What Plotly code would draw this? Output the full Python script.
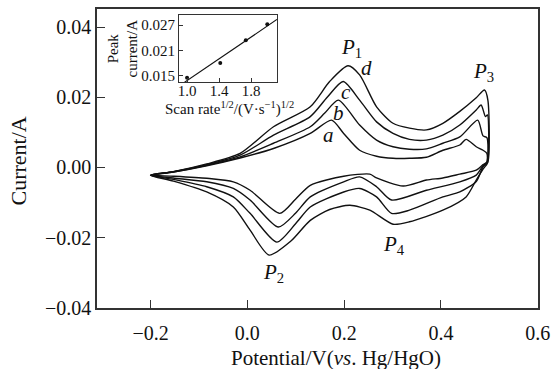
import numpy as np
import plotly.graph_objects as go

# ---------------- data ----------------
# CV curves: anodic branch (-0.2 -> 0.5 V) followed by cathodic branch (0.5 -> -0.2 V)
a_x = [-0.20, -0.153, -0.084, -0.015, 0.054, 0.13, 0.174, 0.199, 0.232, 0.267, 0.301, 0.335, 0.37, 0.404, 0.439, 0.452, 0.473, 0.487, 0.495,
       0.495, 0.487, 0.473, 0.439, 0.404, 0.37, 0.322, 0.267, 0.253, 0.199, 0.13, 0.10, 0.067, 0.0056, -0.029, -0.084, -0.153, -0.20]
a_y = [-0.0022, -0.0013, 0.0005, 0.0027, 0.0054, 0.0097, 0.0135, 0.0097, 0.0049, 0.0032, 0.0026, 0.0026, 0.0029, 0.0049, 0.0064, 0.0080, 0.0059, 0.0049, 0.0040,
       0.0015, 0.0008, -0.0008, -0.0019, -0.0030, -0.0036, -0.0053, -0.0030, -0.0019, -0.0025, -0.0051, -0.0090, -0.0131, -0.0065, -0.0041, -0.0031, -0.0025, -0.0022]

b_x = [-0.20, -0.153, -0.084, -0.015, 0.054, 0.13, 0.16, 0.188, 0.232, 0.267, 0.301, 0.335, 0.37, 0.404, 0.439, 0.476, 0.487, 0.495,
       0.495, 0.487, 0.473, 0.439, 0.37, 0.298, 0.267, 0.232, 0.199, 0.13, 0.10, 0.064, 0.0056, -0.029, -0.084, -0.153, -0.20]
b_y = [-0.0022, -0.0013, 0.0006, 0.0030, 0.0069, 0.0116, 0.0155, 0.0192, 0.0121, 0.0078, 0.0059, 0.0052, 0.0053, 0.0069, 0.0087, 0.0135, 0.0090, 0.0085,
       0.0015, 0.0005, -0.0022, -0.0041, -0.0065, -0.0093, -0.0055, -0.0027, -0.0041, -0.0084, -0.0130, -0.0170, -0.0093, -0.0060, -0.0041, -0.0030, -0.0022]

c_x = [-0.20, -0.153, -0.084, -0.015, 0.054, 0.13, 0.165, 0.198, 0.232, 0.267, 0.301, 0.335, 0.37, 0.404, 0.439, 0.473, 0.483, 0.492, 0.496,
       0.496, 0.487, 0.473, 0.439, 0.404, 0.335, 0.298, 0.267, 0.232, 0.199, 0.13, 0.10, 0.061, 0.0056, -0.029, -0.084, -0.153, -0.20]
c_y = [-0.0022, -0.0012, 0.0008, 0.0035, 0.0092, 0.0145, 0.0200, 0.0245, 0.0192, 0.0130, 0.0097, 0.0080, 0.0078, 0.0092, 0.0121, 0.0164, 0.0178, 0.0145, 0.0150,
       0.0015, 0.0002, -0.0040, -0.0070, -0.0084, -0.0122, -0.0131, -0.0084, -0.0060, -0.0070, -0.0113, -0.0160, -0.0213, -0.0131, -0.0084, -0.0055, -0.0034, -0.0022]

d_x = [-0.20, -0.153, -0.084, -0.015, 0.054, 0.13, 0.17, 0.208, 0.232, 0.267, 0.301, 0.335, 0.37, 0.404, 0.439, 0.473, 0.490, 0.497,
       0.497, 0.487, 0.473, 0.452, 0.404, 0.335, 0.301, 0.253, 0.212, 0.17, 0.13, 0.09, 0.045, 0.0056, -0.029, -0.084, -0.153, -0.20]
d_y = [-0.0022, -0.0012, 0.0010, 0.0040, 0.0116, 0.0173, 0.0245, 0.0290, 0.0264, 0.0173, 0.0126, 0.0112, 0.0107, 0.0126, 0.0160, 0.0199, 0.0221, 0.0192,
       0.0015, -0.0005, -0.0036, -0.0084, -0.0122, -0.0155, -0.0162, -0.0122, -0.0108, -0.0120, -0.0151, -0.0210, -0.0250, -0.0179, -0.0113, -0.0070, -0.0039, -0.0022]

curves = [(a_x, a_y), (b_x, b_y), (c_x, c_y), (d_x, d_y)]

# inset: peak current vs square root of scan rate
scan_sqrt = [1.0, 1.414, 1.732, 2.0]
peak_current = [0.0145, 0.0180, 0.0234, 0.0272]

x_ticks = [-0.2, 0.0, 0.2, 0.4, 0.6]
x_ticktext = ["\u22120.2", "0.0", "0.2", "0.4", "0.6"]
y_ticks = [-0.04, -0.02, 0.0, 0.02, 0.04]
y_ticktext = ["\u22120.04", "\u22120.02", "0.00", "0.02", "0.04"]
inset_x_ticks = [1.0, 1.4, 1.8]
inset_y_ticks = [0.015, 0.021, 0.027]
inset_y_ticktext = ["0.015", "0.021", "0.027"]

# ---------------- figure ----------------
FONT = "Liberation Serif"
INK = "#111111"
fig = go.Figure()

for cx, cy in curves:
    fig.add_trace(go.Scatter(x=cx, y=cy, mode="lines",
                             line=dict(color=INK, width=1.4, shape="spline", smoothing=0.7),
                             showlegend=False, hoverinfo="skip"))

# inset data
fig.add_trace(go.Scatter(x=scan_sqrt, y=peak_current, mode="markers",
                         marker=dict(color=INK, size=4), xaxis="x2", yaxis="y2",
                         showlegend=False, hoverinfo="skip"))
slope, intercept = np.polyfit(scan_sqrt, peak_current, 1)
fit_x = [0.93, 2.12]
fit_y = [slope * v + intercept for v in fit_x]
fig.add_trace(go.Scatter(x=fit_x, y=fit_y, mode="lines", line=dict(color=INK, width=1.1),
                         xaxis="x2", yaxis="y2", showlegend=False, hoverinfo="skip"))

axis_common = dict(showline=True, linecolor="#333333", linewidth=1.6, mirror=True,
                   ticks="inside", tickcolor="#333333", tickwidth=1.4, showgrid=False,
                   zeroline=False, automargin=False,
                   tickfont=dict(family=FONT, size=20, color=INK))

inset_common = dict(showline=True, linecolor="#333333", linewidth=1.2, mirror=True,
                    ticks="inside", tickcolor="#333333", ticklen=4, showgrid=False,
                    zeroline=False, automargin=False,
                    tickfont=dict(family=FONT, size=15, color=INK))

fig.update_layout(
    width=552, height=369,
    margin=dict(l=97, r=14, t=9, b=61),
    paper_bgcolor="white", plot_bgcolor="white",
    font=dict(family=FONT, color=INK),
    xaxis=dict(range=[-0.3107, 0.6006], tickvals=x_ticks, ticktext=x_ticktext, ticklen=8,
               ticklabelstandoff=6, **axis_common),
    yaxis=dict(range=[-0.0401, 0.0452], tickvals=y_ticks, ticktext=y_ticktext, ticklen=8,
               **axis_common),
    xaxis2=dict(domain=[0.186, 0.408], anchor="y2", range=[0.9, 2.12],
                tickvals=inset_x_ticks, ticktext=["1.0", "1.4", "1.8"],
                ticklabelstandoff=-5, **inset_common),
    yaxis2=dict(domain=[0.756, 0.980], anchor="x2", range=[0.0135, 0.0294],
                tickvals=inset_y_ticks, ticktext=inset_y_ticktext, **inset_common),
)

annotations = [
    dict(text="Potential/V(<i>vs</i>. Hg/HgO)", xref="paper", yref="paper", x=0.542, y=0.0,
         yshift=-50, xanchor="center", yanchor="middle", showarrow=False,
         font=dict(family=FONT, size=21, color=INK)),
    dict(text="Current/A", xref="paper", yref="paper", x=0, xshift=-79, y=0.49,
         textangle=-90, xanchor="center", yanchor="middle", showarrow=False,
         font=dict(family=FONT, size=22, color=INK)),
    dict(text="Peak<br>current/A", xref="paper", yref="paper", x=0.186, xshift=-56, y=0.868,
         textangle=-90, xanchor="center", yanchor="middle", showarrow=False,
         font=dict(family=FONT, size=15, color=INK)),
    dict(text="Scan rate<sup>1/2</sup>/(V\u00b7s<sup>\u22121</sup>)<sup>1/2</sup>", xref="paper", yref="paper",
         x=0.30, y=0.756, yshift=-15, xanchor="center", yanchor="top", showarrow=False,
         font=dict(family=FONT, size=15, color=INK)),
]
labels = [
    ("<i>P</i><sub>1</sub>", 0.215, 0.0341),
    ("<i>d</i>", 0.246, 0.0283),
    ("<i>c</i>", 0.204, 0.0216),
    ("<i>b</i>", 0.188, 0.0154),
    ("<i>a</i>", 0.167, 0.0092),
    ("<i>P</i><sub>3</sub>", 0.487, 0.0273),
    ("<i>P</i><sub>2</sub>", 0.053, -0.0300),
    ("<i>P</i><sub>4</sub>", 0.302, -0.0222),
]
for t, lx, ly in labels:
    annotations.append(dict(text=t, x=lx, y=ly, xref="x", yref="y", showarrow=False,
                            xanchor="center", yanchor="middle",
                            font=dict(family=FONT, size=21, color=INK)))
fig.update_layout(annotations=annotations)

fig.write_html("out.html", config={"displayModeBar": False},
               post_script="document.body.style.margin='0';")
